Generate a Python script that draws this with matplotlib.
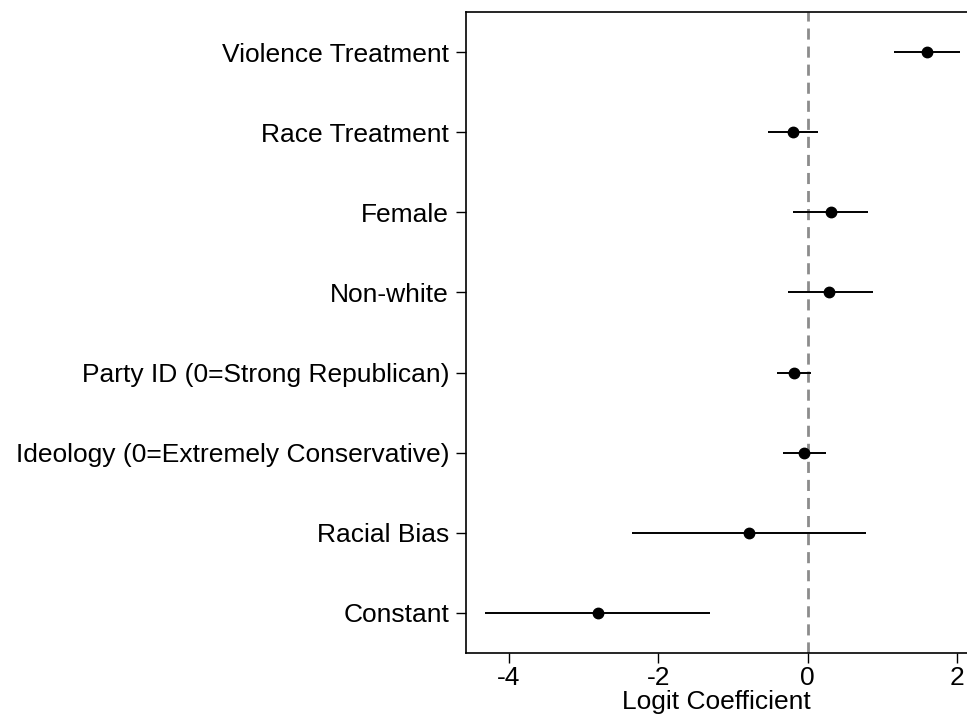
import numpy as np
import matplotlib
matplotlib.use("Agg")
import matplotlib.pyplot as plt

plt.rcParams['font.family'] = ['Liberation Sans', 'DejaVu Sans']

# ——— 数据 ———
labels = ["Violence Treatment", "Race Treatment", "Female", "Non-white",
          "Party ID (0=Strong Republican)", "Ideology (0=Extremely Conservative)",
          "Racial Bias", "Constant"]
coef = np.array([1.60, -0.20, 0.31, 0.29, -0.19, -0.05, -0.79, -2.81])
ci_low = np.array([1.15, -0.53, -0.20, -0.27, -0.41, -0.33, -2.35, -4.31])
ci_high = np.array([2.04, 0.14, 0.81, 0.87, 0.04, 0.24, 0.78, -1.31])
xticks = [-4, -2, 0, 2]

ypos = np.arange(len(labels))[::-1] + 1

fig = plt.figure(figsize=(9.67, 7.19), dpi=100)
ax = fig.add_axes([466 / 967, 1 - 653 / 719, 1 - 466 / 967, (653 - 12) / 719])

ax.axvline(0, color='#8c8c8c', linestyle=(0, (4, 2.5)), linewidth=2, zorder=1)
ax.hlines(ypos, ci_low, ci_high, color='black', linewidth=1.4, zorder=2)
ax.plot(coef, ypos, 'o', color='black', markersize=7.5, zorder=3)

ax.set_xlim(-4.57, 2.13)
ax.set_ylim(0.5, 8.5)
ax.set_yticks(ypos)
ax.set_yticklabels(labels)
ax.set_xticks(xticks)
ax.set_xticklabels([str(t) for t in xticks])
ax.tick_params(direction='out', length=7.2, width=1, labelsize=19, pad=5)
ax.tick_params(axis='x', pad=2)
ax.spines['right'].set_visible(False)
for s in ['left', 'top', 'bottom']:
    ax.spines[s].set_linewidth(1.2)
ax.set_xlabel("Logit Coefficient", fontsize=19, labelpad=0)

fig.savefig("out.png", dpi=100)
